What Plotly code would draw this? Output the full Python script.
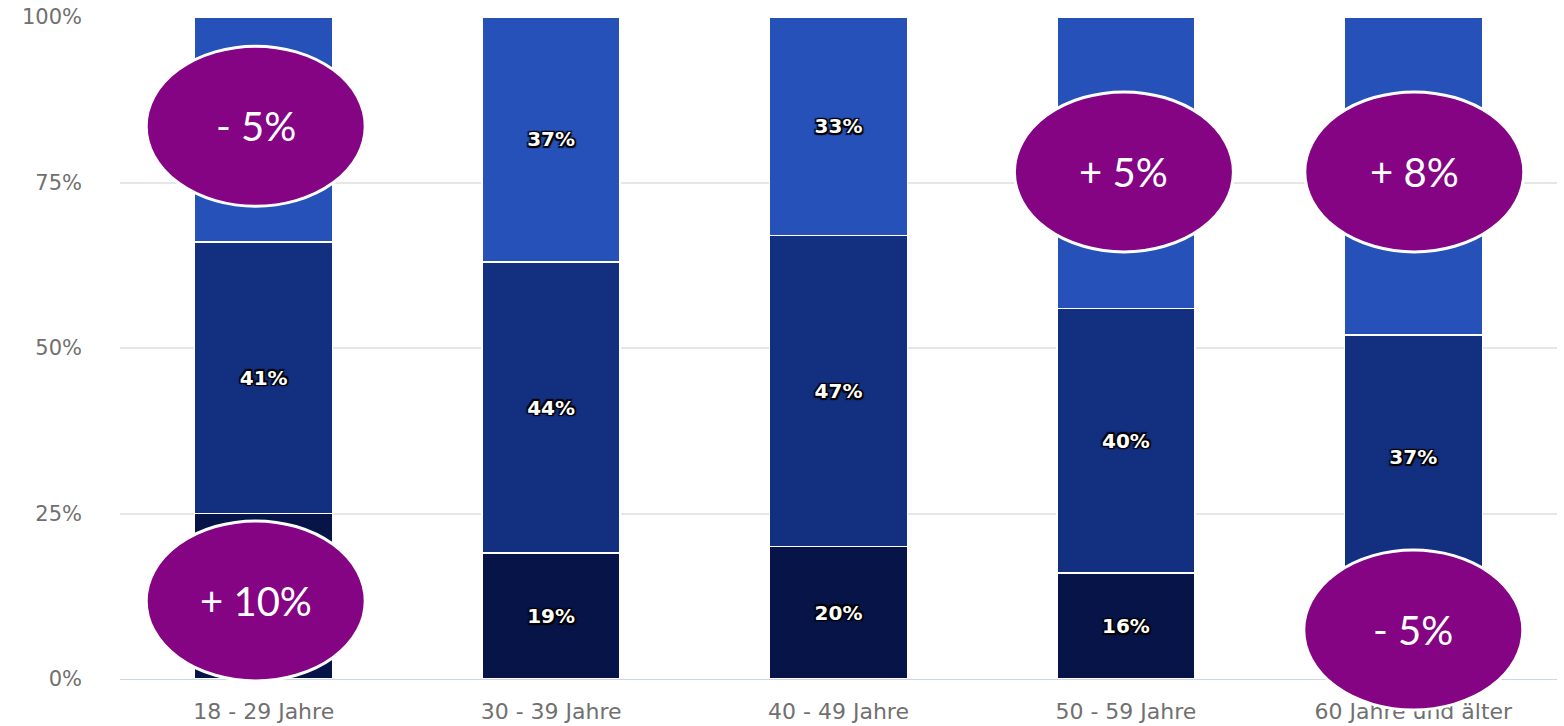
import plotly.graph_objects as go

# Altersgruppen und Anteile je Segment (in %)
categories = ["18 - 29 Jahre", "30 - 39 Jahre", "40 - 49 Jahre", "50 - 59 Jahre", "60 Jahre und älter"]
bottom_vals = [25, 19, 20, 16, 15]
middle_vals = [41, 44, 47, 40, 37]
top_vals = [34, 37, 33, 44, 48]

# Beschriftungen nur dort, wo sie sichtbar sind
bottom_text = ["", "19%", "20%", "16%", ""]
middle_text = ["41%", "44%", "47%", "40%", "37%"]
top_text = ["", "37%", "33%", "", ""]

# y-Achse
y_ticks = [0, 25, 50, 75, 100]
y_ticktext = ["0%", "25%", "50%", "75%", "100%"]

# Veränderungs-Markierungen: Kategorie-Index, y-Mitte in %, Text
change_idx = [0, 0, 3, 4, 4]
change_y = [83.5, 11.8, 76.6, 76.6, 7.4]
change_text = ["- 5%", "+ 10%", "+ 5%", "+ 8%", "- 5%"]
# horizontale Verschiebung der Ellipsen gegenüber der Balkenmitte (px)
change_dx_px = [-8, -8, -2, 1, 0]

colors = ["#061447", "#12307f", "#2651b8"]

fig = go.Figure()
label_font = dict(family="DejaVu Sans", size=20, color="white", weight="bold",
                  shadow="1.5px 1.5px 1px #000, -1.5px -1.5px 1px #000, 1.5px -1.5px 1px #000, "
                         "-1.5px 1.5px 1px #000, 0 0 2px #000")
for vals, txt, col in [(bottom_vals, bottom_text, colors[0]),
                       (middle_vals, middle_text, colors[1]),
                       (top_vals, top_text, colors[2])]:
    fig.add_trace(go.Bar(
        x=list(range(len(categories))), y=vals, text=txt,
        textposition="inside", insidetextanchor="middle", constraintext="none",
        textfont=label_font, marker=dict(color=col, line=dict(color="white", width=1.5)),
        width=0.48, showlegend=False, hoverinfo="skip",
    ))

W, H = 1564, 726
ml, mr, mt, mb = 120, 7, 17, 47
pw, ph = W - ml - mr, H - mt - mb

shapes = []
annotations = []
ew, eh = 219, 160  # Ellipsengröße in px
for i, yc, t, off in zip(change_idx, change_y, change_text, change_dx_px):
    xc = (i + 0.5) / len(categories) + off / pw
    yp = yc / 100
    dx, dy = ew / 2 / pw, eh / 2 / ph
    shapes.append(dict(type="circle", xref="paper", yref="paper",
                       x0=xc - dx, x1=xc + dx, y0=yp - dy, y1=yp + dy,
                       fillcolor="#840484", line=dict(color="white", width=3), layer="above"))
    annotations.append(dict(xref="paper", yref="paper", x=xc, y=yp, text=t, showarrow=False,
                            xanchor="center", yanchor="middle",
                            font=dict(family="Lato", size=40, color="white")))

fig.update_layout(
    width=W, height=H, barmode="stack", bargap=0.52,
    margin=dict(l=ml, r=mr, t=mt, b=mb),
    plot_bgcolor="white", paper_bgcolor="white",
    shapes=shapes, annotations=annotations,
    xaxis=dict(tickmode="array", tickvals=list(range(len(categories))), ticktext=categories,
               range=[-0.5, 4.5], showgrid=False, showline=True, linecolor="#ccd6eb", linewidth=1,
               ticks="", ticklabelstandoff=13, automargin=False,
               tickfont=dict(family="DejaVu Sans", size=22, color="#707070")),
    yaxis=dict(range=[0, 100], tickmode="array", tickvals=y_ticks, ticktext=y_ticktext,
               showgrid=True, gridcolor="#e6e6e6", gridwidth=1.5, zeroline=False,
               ticks="", ticklabelstandoff=37, automargin=False,
               tickfont=dict(family="DejaVu Sans", size=21, color="#707070")),
)

fig.write_html("out.html")
